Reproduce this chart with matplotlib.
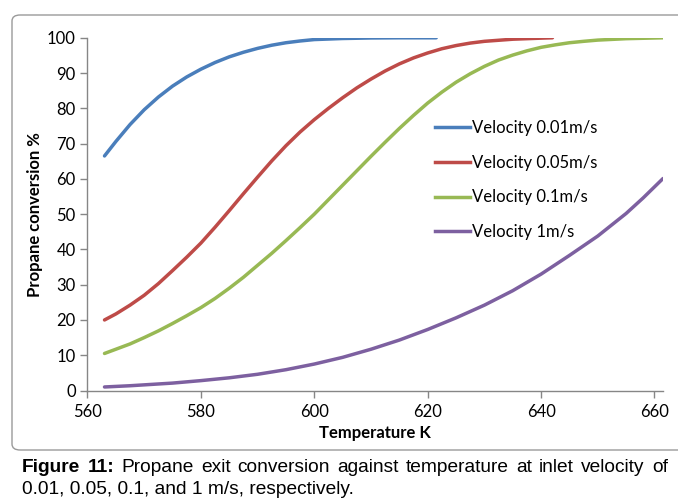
import matplotlib
matplotlib.use("Agg")
import matplotlib.pyplot as plt
from matplotlib.patches import FancyBboxPatch
from matplotlib.lines import Line2D

# ---- data ----
t_blue = [563, 565, 567.5, 570, 572.5, 575, 577.5, 580, 582.5, 585, 587.5, 590, 592.5, 595, 597.5,
          600, 605, 610, 615, 621.5]
v_blue = [66.5, 70.6, 75.4, 79.6, 83.2, 86.3, 88.9, 91.1, 93.0, 94.6, 95.9, 97.0, 97.9, 98.6, 99.1,
          99.5, 99.8, 99.95, 100, 100]

t_red = [563, 565, 567.5, 570, 572.5, 575, 577.5, 580, 582.5, 585, 587.5, 590, 592.5, 595, 597.5,
         600, 602.5, 605, 607.5, 610, 612.5, 615, 617.5, 620, 622.5, 625, 627.5, 630, 635, 640, 642]
v_red = [20.0, 21.7, 24.2, 27.0, 30.3, 34.0, 37.8, 41.8, 46.3, 51.0, 55.8, 60.5, 65.1, 69.4, 73.3,
         76.8, 80.0, 83.0, 85.8, 88.3, 90.6, 92.6, 94.3, 95.7, 96.9, 97.8, 98.5, 99.0, 99.6, 99.9, 100]

t_green = [563, 565, 567.5, 570, 572.5, 575, 577.5, 580, 582.5, 585, 587.5, 590, 592.5, 595, 597.5,
           600, 602.5, 605, 607.5, 610, 612.5, 615, 617.5, 620, 622.5, 625, 627.5, 630, 632.5, 635,
           637.5, 640, 642.5, 645, 647.5, 650, 655, 661.5]
v_green = [10.5, 11.7, 13.2, 15.0, 16.9, 19.0, 21.2, 23.5, 26.1, 29.0, 32.1, 35.5, 38.9, 42.5, 46.2,
           50.0, 54.1, 58.2, 62.3, 66.4, 70.4, 74.3, 78.0, 81.5, 84.6, 87.4, 89.8, 91.9, 93.7, 95.1,
           96.3, 97.3, 98.0, 98.6, 99.0, 99.35, 99.75, 100]

t_purple = [563, 567.5, 570, 575, 580, 585, 590, 595, 600, 605, 610, 615, 620, 625, 630, 635, 640,
            645, 650, 655, 658, 661.5]
v_purple = [1.0, 1.35, 1.6, 2.1, 2.8, 3.6, 4.6, 5.9, 7.5, 9.4, 11.7, 14.3, 17.3, 20.6, 24.2, 28.3,
            33.0, 38.3, 43.8, 50.2, 54.6, 60.1]

labels = ["Velocity 0.01m/s", "Velocity 0.05m/s", "Velocity 0.1m/s", "Velocity 1m/s"]
colors = ["#4A7EBB", "#BE4B48", "#98B954", "#7D60A0"]
x_ticks = [560, 580, 600, 620, 640, 660]
y_ticks = [0, 10, 20, 30, 40, 50, 60, 70, 80, 90, 100]

W, H = 678, 501
fig = plt.figure(figsize=(W / 100, H / 100), dpi=100)

tick_font = ["Lato", "DejaVu Sans"]

# border
border = FancyBboxPatch((12 / W, 1 - 450 / H), (W + 10 - 12) / W, (450 - 15) / H,
                        boxstyle="round,pad=0,rounding_size=0.012",
                        transform=fig.transFigure, fill=False, edgecolor="#9a9a9a",
                        linewidth=1.0, clip_on=False)
fig.patches.append(border)

L, R, B, T = 87.5, 663, 390.5, 37.8
ax = fig.add_axes([L / W, 1 - B / H, (R - L) / W, (B - T) / H])
series = [(t_blue, v_blue), (t_red, v_red), (t_green, v_green), (t_purple, v_purple)]
for (t, v), c, lab in zip(series, colors, labels):
    ax.plot(t, v, color=c, linewidth=2.5, label=lab, solid_capstyle="round", solid_joinstyle="round")

ax.set_xlim(560, 661.5)
ax.set_ylim(0, 100)
ax.set_xticks(x_ticks)
ax.set_yticks(y_ticks)
for s in ["top", "right"]:
    ax.spines[s].set_visible(False)
for s in ["left", "bottom"]:
    ax.spines[s].set_color("#868686")
    ax.spines[s].set_linewidth(1.0)
ax.tick_params(direction="out", length=5, width=1, color="#868686", labelsize=12)
ax.tick_params(axis="y", pad=3.5)
ax.tick_params(axis="x", pad=5)
for lab in ax.get_xticklabels() + ax.get_yticklabels():
    lab.set_family(tick_font)
ax.set_xlabel("Temperature K", fontsize=12, fontweight="bold", family=tick_font)
ax.set_ylabel("Propane conversion %", fontsize=12, fontweight="bold", family=tick_font)
ax.xaxis.set_label_coords(0.5, (B - 433) / (B - T))
ax.xaxis.label.set_va("center")
ax.yaxis.set_label_coords((35 - L) / (R - L), 0.5)
ax.yaxis.label.set_va("center")

handles = [Line2D([], [], color=c, linewidth=2.5) for c in colors]
leg = ax.legend(handles, labels, loc="upper left",
                bbox_to_anchor=((435 - L) / (R - L), (B - 120) / (B - T)), frameon=False,
                prop={"family": tick_font, "size": 12}, handlelength=2.1, handletextpad=0.1,
                labelspacing=1.12, borderaxespad=0, borderpad=0)

# caption, justified first line
renderer = fig.canvas.get_renderer()
cap_font = "Liberation Sans"
fs = 13.8
x0, x1 = 22 / W, 668 / W
y1 = 1 - 467 / H
y2 = 1 - 490 / H
words = [("Figure", "bold"), ("11:", "bold"), ("Propane", "normal"), ("exit", "normal"), ("conversion", "normal"),
         ("against", "normal"), ("temperature", "normal"), ("at", "normal"), ("inlet", "normal"),
         ("velocity", "normal"), ("of", "normal")]
txts = []
widths = []
for w, wt in words:
    t = fig.text(0, y1, w, fontsize=fs, fontweight=wt, family=cap_font, va="center", ha="left")
    bb = t.get_window_extent(renderer=renderer)
    widths.append(bb.width / W)
    txts.append(t)
gap = (x1 - x0 - sum(widths)) / (len(words) - 1)
x = x0
for t, wdt in zip(txts, widths):
    t.set_x(x)
    x += wdt + gap
fig.text(x0, y2, "0.01, 0.05, 0.1, and 1 m/s, respectively.", fontsize=fs, family=cap_font,
         va="center", ha="left")

fig.savefig("out.png", dpi=100)
